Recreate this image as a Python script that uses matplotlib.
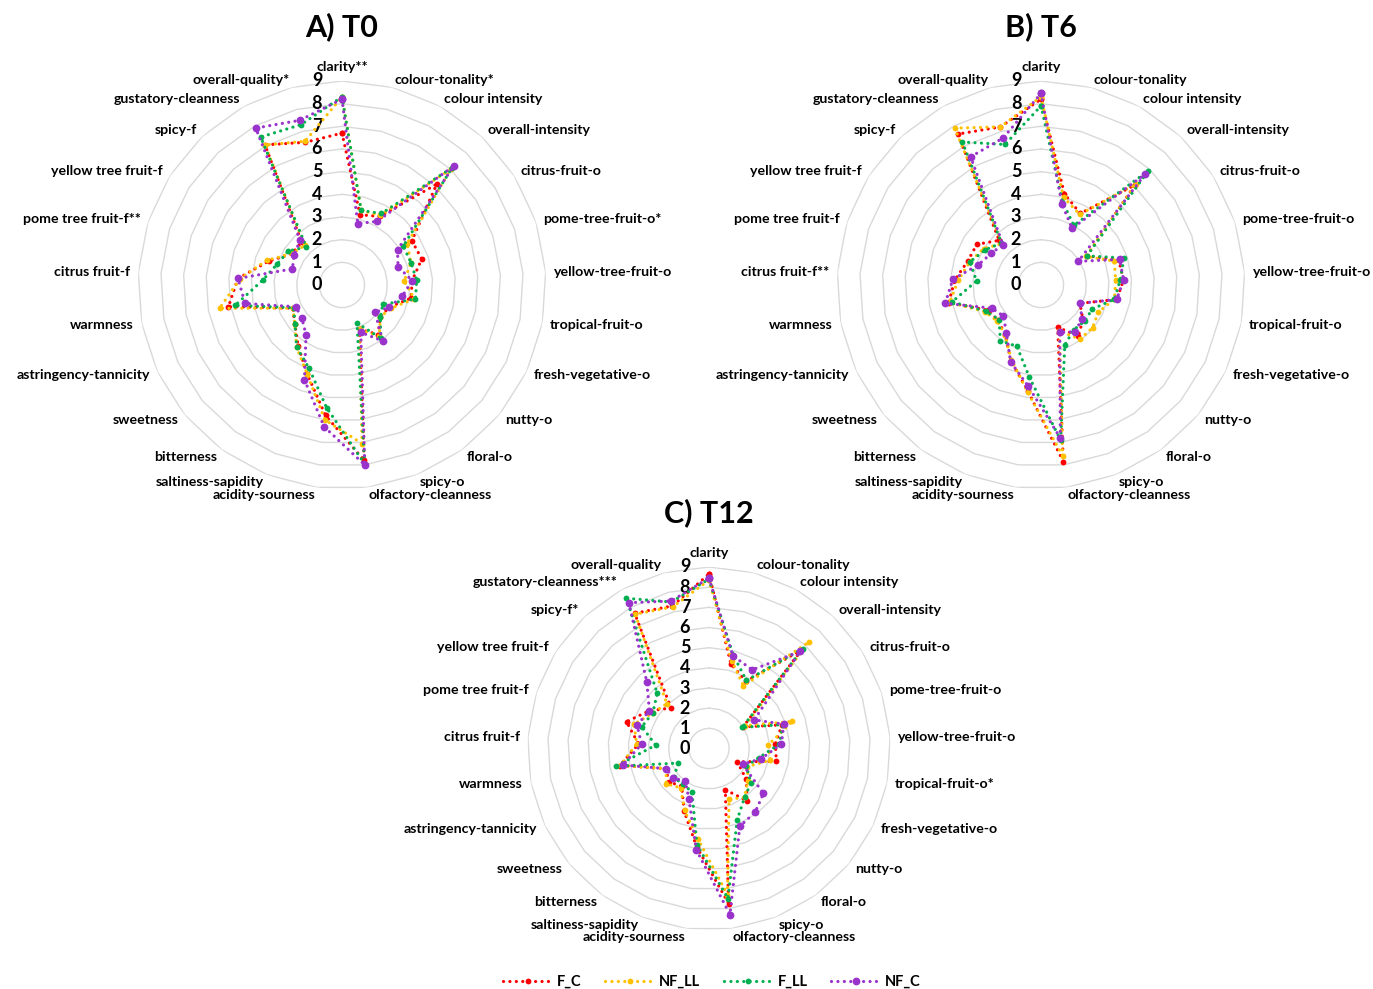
import numpy as np
import matplotlib
matplotlib.use('Agg')
import matplotlib.pyplot as plt

plt.rcParams['font.family'] = ['Lato', 'DejaVu Sans']

W, H, DPI = 1373, 989, 100

base_cats = ['clarity', 'colour-tonality', 'colour intensity', 'overall-intensity',
             'citrus-fruit-o', 'pome-tree-fruit-o', 'yellow-tree-fruit-o', 'tropical-fruit-o',
             'fresh-vegetative-o', 'nutty-o', 'floral-o', 'spicy-o', 'olfactory-cleanness',
             'acidity-sourness', 'saltiness-sapidity', 'bitterness', 'sweetness',
             'astringency-tannicity', 'warmness', 'citrus fruit-f', 'pome tree fruit-f',
             'yellow tree fruit-f', 'spicy-f', 'gustatory-cleanness', 'overall-quality']

marks_T0 = {'clarity': '**', 'colour-tonality': '*', 'pome-tree-fruit-o': '*',
            'pome tree fruit-f': '**', 'overall-quality': '*'}
marks_T6 = {'citrus fruit-f': '**'}
marks_T12 = {'tropical-fruit-o': '*', 'spicy-f': '*', 'gustatory-cleanness': '***'}

cats_T0 = [c + marks_T0.get(c, '') for c in base_cats]
cats_T6 = [c + marks_T6.get(c, '') for c in base_cats]
cats_T12 = [c + marks_T12.get(c, '') for c in base_cats]

series_names = ['F_C', 'NF_LL', 'F_LL', 'NF_C']
colors = ['#FF0000', '#FFC000', '#00B050', '#9933CC']
msizes = [4.2, 4.2, 4.2, 5.6]

# ---- T0 ----
T0_F_C = [6.7, 3.2, 3.45, 6.1, 3.65, 3.7, 3.1, 3.1, 2.3, 2.2, 2.7, 2.1, 7.8,
          5.8, 4.2, 3.3, 2.7, 2.4, 5.1, 4.6, 3.4, 2.6, 2.6, 7.05, 6.5]
T0_NF_LL = [8.3, 3.4, 3.5, 7.0, 3.4, 3.2, 2.75, 3.25, 2.4, 2.2, 2.8, 2.1, 7.05,
            6.0, 4.2, 3.4, 2.7, 2.4, 5.5, 4.5, 3.5, 2.6, 2.4, 7.05, 6.55]
T0_F_LL = [8.3, 3.4, 3.6, 7.1, 3.2, 3.2, 3.3, 3.3, 2.0, 2.2, 2.9, 1.8, 7.95,
           5.45, 3.95, 3.4, 2.7, 2.35, 4.8, 3.5, 3.0, 2.8, 2.3, 7.45, 7.3]
T0_NF_C = [8.2, 2.8, 3.2, 7.2, 2.9, 2.6, 3.1, 2.7, 2.3, 1.9, 3.05, 2.25, 8.0,
           6.3, 4.5, 2.7, 2.3, 2.25, 4.35, 4.6, 2.3, 2.5, 2.7, 7.9, 7.5]

# ---- T6 ----
T6_F_C = [8.2, 4.15, 3.6, 6.05, 2.4, 3.6, 3.65, 3.4, 1.9, 2.4, 2.8, 2.0, 7.85,
          4.7, 3.6, 2.7, 2.45, 2.6, 4.15, 3.8, 3.4, 3.35, 2.7, 7.6, 7.2]
T6_NF_LL = [8.3, 4.0, 3.55, 6.1, 2.35, 3.4, 3.3, 3.3, 2.8, 2.95, 2.95, 2.2, 7.6,
            4.75, 3.55, 2.7, 2.5, 2.75, 4.1, 3.65, 3.3, 3.0, 2.5, 7.9, 7.2]
T6_F_LL = [7.9, 3.8, 3.0, 6.9, 2.4, 3.85, 3.5, 3.3, 2.5, 2.5, 2.45, 2.85, 6.9,
           4.1, 2.9, 3.05, 2.4, 2.7, 4.0, 2.85, 3.3, 2.9, 2.55, 7.2, 6.4]
T6_NF_C = [8.45, 3.7, 2.85, 6.7, 1.95, 3.65, 3.65, 3.4, 1.9, 2.35, 2.55, 2.25, 6.8,
           4.5, 3.65, 2.6, 2.15, 2.4, 4.3, 3.9, 2.9, 2.6, 2.45, 6.45, 6.7]

# ---- T12 ----
T12_F_C = [8.65, 4.35, 3.8, 6.7, 2.0, 3.8, 3.3, 3.4, 1.55, 2.4, 3.2, 2.2, 7.75,
           4.9, 3.35, 2.3, 2.6, 2.35, 4.5, 3.5, 4.3, 3.5, 2.75, 7.65, 7.3]
T12_NF_LL = [8.35, 4.5, 3.55, 7.25, 2.1, 4.35, 2.95, 3.1, 2.1, 2.5, 3.0, 2.7, 7.3,
             4.5, 3.3, 2.4, 2.75, 2.35, 4.45, 3.6, 3.9, 3.3, 3.05, 7.6, 7.25]
T12_F_LL = [8.4, 4.8, 3.85, 6.8, 1.95, 3.85, 3.5, 2.5, 2.05, 2.7, 3.0, 3.8, 7.5,
            4.8, 2.3, 2.2, 2.25, 1.7, 4.7, 2.65, 3.5, 3.3, 3.75, 8.5, 7.5]
T12_NF_C = [8.45, 4.75, 4.45, 6.6, 2.65, 3.9, 3.6, 2.65, 1.85, 3.5, 3.9, 4.15, 8.3,
            5.05, 2.7, 2.0, 2.3, 2.35, 4.35, 3.35, 3.75, 3.5, 4.5, 8.25, 7.55]

ring_values = list(range(0, 10))

fig = plt.figure(figsize=(W / DPI, H / DPI), dpi=DPI)
fig.patch.set_facecolor('white')

PX2PT = 72.0 / DPI


def radar(cx, cy, R, cats, data, title, title_y, tick_dx):
    ax = fig.add_axes([(cx - R) / W, (H - cy - R) / H, 2 * R / W, 2 * R / H],
                      projection='polar')
    ax.set_theta_zero_location('N')
    ax.set_theta_direction(-1)
    n = len(cats)
    ang = np.arange(n) * 2 * np.pi / n
    angc = np.append(ang, ang[0])
    for r in ring_values[1:]:
        ax.plot(angc, [r] * (n + 1), color='#d9d9d9', lw=1.0, zorder=1)
    lines = []
    for vals, c, ms, name in zip(data, colors, msizes, series_names):
        v = np.append(vals, vals[0])
        ln, = ax.plot(angc, v, color=c, lw=2.3, linestyle=(0, (0.01, 2.0)),
                      dash_capstyle='round', marker='o', ms=ms, mew=0,
                      label=name, zorder=3, clip_on=False)
        lines.append(ln)
    ax.set_ylim(0, 9)
    ax.set_xticks([])
    ax.set_yticks([])
    ax.grid(False)
    ax.spines['polar'].set_visible(False)
    ax.patch.set_alpha(0)
    # ring value labels
    for r in ring_values:
        ax.annotate(str(r), xy=(0, r), xytext=(tick_dx * PX2PT, 0),
                    textcoords='offset points', ha='center', va='center',
                    fontsize=13, fontweight='bold', zorder=2)
    # category labels
    d = 8 * PX2PT
    for i, lab in enumerate(cats):
        s, c = np.sin(ang[i]), np.cos(ang[i])
        if abs(s) < 0.05:
            ha = 'center'
        elif s > 0:
            ha = 'left'
        else:
            ha = 'right'
        va = 'bottom' if i == 0 else 'center'
        ax.annotate(lab, xy=(ang[i], 9), xytext=(d * s, d * c),
                    textcoords='offset points', ha=ha, va=va,
                    fontsize=10.2, fontweight='bold', annotation_clip=False)
    fig.text(cx / W, 1 - title_y / H, title, ha='center', va='center',
             fontsize=22, fontweight='bold')
    return lines


lines = radar(342, 285, 204, cats_T0, [T0_F_C, T0_NF_LL, T0_F_LL, T0_NF_C],
              'A) T0', 27, -25)
radar(1041, 285, 204, cats_T6, [T6_F_C, T6_NF_LL, T6_F_LL, T6_NF_C],
      'B) T6', 27, -25)
radar(709, 748.5, 181.5, cats_T12, [T12_F_C, T12_NF_LL, T12_F_LL, T12_NF_C],
      'C) T12', 513, -24)

fig.legend(lines, series_names, loc='center', bbox_to_anchor=(712 / W, 1 - 982 / H),
           ncol=4, frameon=False, numpoints=1, handlelength=3.4, handletextpad=0.3,
           columnspacing=1.6, prop={'size': 10.5, 'weight': 'bold'})

fig.savefig('out.png', dpi=DPI, facecolor='white')
